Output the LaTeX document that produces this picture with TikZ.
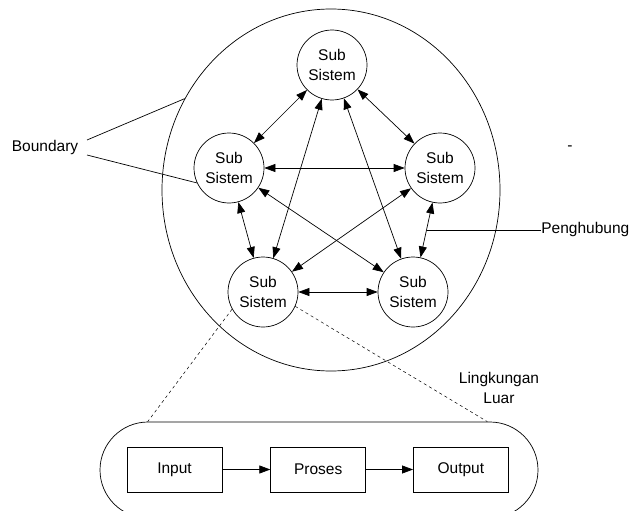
\documentclass[tikz,border=0pt]{standalone}
\usepackage{fontspec}
\setmainfont{Liberation Sans}
\usetikzlibrary{positioning,arrows.meta,shapes.geometric,calc}

\begin{document}
\begin{tikzpicture}[
  x=1pt, y=-1pt,
  line width=0.7pt,
  font=\fontsize{15.5}{20}\selectfont,
  sub/.style={draw, circle, minimum size=70pt, inner sep=0pt, align=center},
  proc/.style={draw, minimum width=95pt, minimum height=45pt, inner sep=0pt},
  link/.style={{Triangle[length=11pt,width=8pt]}-{Triangle[length=11pt,width=8pt]}},
  flow/.style={-{Triangle[length=11pt,width=8pt]}},
  note/.style={inner sep=0pt, align=center}
]
\useasboundingbox (0,0) rectangle (629,511);

% boundary of the system
\node[draw, ellipse, minimum width=338pt, minimum height=362pt] (boundary) at (331,190) {};

\node[sub] (subtop) at (332,65) {Sub\\Sistem};
\node[sub] (subleft) at (229,168) {Sub\\Sistem};
\node[sub] (subright) at (440,168) {Sub\\Sistem};
\node[sub] (subbl) at (263,292) {Sub\\Sistem};
\node[sub] (subbr) at (413,292) {Sub\\Sistem};

\draw[link] (subtop) -- (subleft);
\draw[link] (subtop) -- (subright);
\draw[link] (subtop) -- (subbl);
\draw[link] (subtop) -- (subbr);
\draw[link] (subleft) -- (subright);
\draw[link] (subleft) -- (subbl);
\draw[link] (subleft) -- (subbr);
\draw[link] (subright) -- (subbl);
\draw[link] (subright) -- coordinate[pos=0.5] (hub) (subbr);
\draw[link] (subbl) -- (subbr);

% labels
\node[note] (boundlbl) at (45,147) {Boundary};
\coordinate (bnd1) at (87,140);
\coordinate (bnd2) at (87,155);
\draw (bnd1) -- (boundary.148);
\draw (bnd2) -- (subleft.205);

\node[note, anchor=west] (penghubung) at (541,229) {Penghubung};
\draw (hub) -- (hub -| penghubung.west);

\node[note] (dash) at (570,148) {-};
\node[note] (luar) at (499,388) {Lingkungan\\Luar};

% inside one sub system
\node[draw, rounded corners=48pt, minimum width=438pt, minimum height=96pt] (env) at (319,470) {};
\node[proc] (input) at (174.5,469.5) {Input};
\node[proc, right=48pt of input] (proses) {Proses};
\node[proc, right=47pt of proses] (output) {Output};
\draw[flow] (input) -- (proses);
\draw[flow] (proses) -- (output);

\draw[dashed, line width=0.5pt] (subbl.209) -- ([xshift=48pt]env.north west);
\draw[dashed, line width=0.5pt] (subbl.336) -- ([xshift=-51pt]env.north east);
\end{tikzpicture}
\end{document}
